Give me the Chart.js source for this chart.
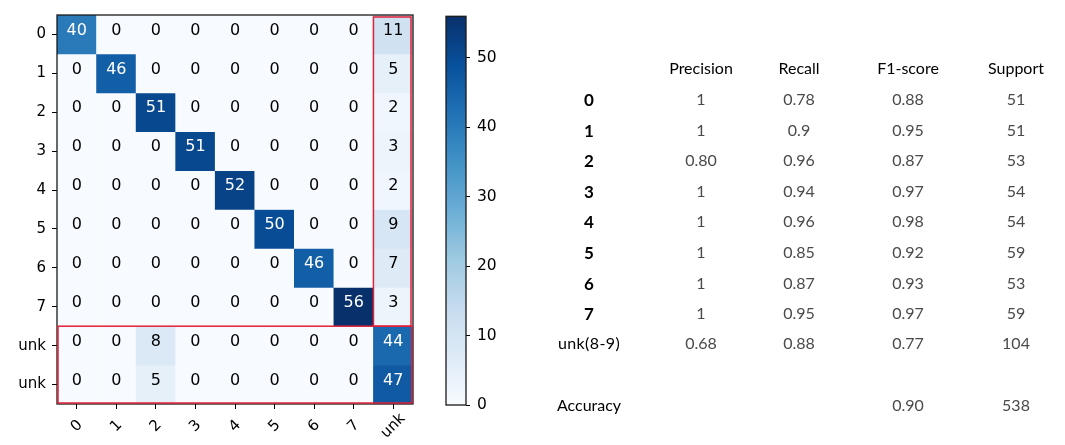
<!DOCTYPE html>
<html>
<head>
<meta charset="utf-8">
<script src="https://cdn.jsdelivr.net/npm/chart.js@4.4.1/dist/chart.umd.min.js"></script>
<style>
  html, body { margin: 0; padding: 0; background: #fff; }
  #page { position: relative; width: 1065px; height: 445px; overflow: hidden; background: #fff; }
  #heatBox { position: absolute; left: 0; top: 0; width: 430px; height: 445px; }
  #barBox { position: absolute; left: 430px; top: 0; width: 110px; height: 445px; }
  #report { position: absolute; left: 0; top: 0; width: 1065px; height: 445px; font-family: Lato, "Open Sans", sans-serif; font-size: 16px; }
  #report div { position: absolute; transform: translate(-50%, -50%); white-space: nowrap; line-height: 1; }
  .hdr { color: #000; }
  .lbl { color: #000; font-weight: bold; font-size: 17px; }
  .lbl2 { color: #000; }
  .lbl2.wide { letter-spacing: 0.4px; }
  .val { color: #4a4a4a; }
</style>
</head>
<body>
<div id="page">
  <div id="heatBox"><canvas id="heat"></canvas></div>
  <div id="barBox"><canvas id="cbar"></canvas></div>
  <div id="report"></div>
</div>
<script>
// Predicted classes (columns) and true classes (rows)
const predLabels = ['0', '1', '2', '3', '4', '5', '6', '7', 'unk'];
const trueLabels = ['0', '1', '2', '3', '4', '5', '6', '7', 'unk', 'unk'];

// Confusion-matrix counts, one array per true-class row
const row0 = [40, 0, 0, 0, 0, 0, 0, 0, 11];
const row1 = [0, 46, 0, 0, 0, 0, 0, 0, 5];
const row2 = [0, 0, 51, 0, 0, 0, 0, 0, 2];
const row3 = [0, 0, 0, 51, 0, 0, 0, 0, 3];
const row4 = [0, 0, 0, 0, 52, 0, 0, 0, 2];
const row5 = [0, 0, 0, 0, 0, 50, 0, 0, 9];
const row6 = [0, 0, 0, 0, 0, 0, 46, 0, 7];
const row7 = [0, 0, 0, 0, 0, 0, 0, 56, 3];
const row8 = [0, 0, 8, 0, 0, 0, 0, 0, 44];
const row9 = [0, 0, 5, 0, 0, 0, 0, 0, 47];
const matrix = [row0, row1, row2, row3, row4, row5, row6, row7, row8, row9];

// Colour bar ticks
const colorbarTicks = [0, 10, 20, 30, 40, 50];

// Classification report
const reportHeaders = ['Precision', 'Recall', 'F1-score', 'Support'];
const reportClasses = ['0', '1', '2', '3', '4', '5', '6', '7', 'unk(8-9)'];
const precision = ['1', '1', '0.80', '1', '1', '1', '1', '1', '0.68'];
const recall = ['0.78', '0.9', '0.96', '0.94', '0.96', '0.85', '0.87', '0.95', '0.88'];
const f1score = ['0.88', '0.95', '0.87', '0.97', '0.98', '0.92', '0.93', '0.97', '0.77'];
const support = ['51', '51', '53', '54', '54', '59', '53', '59', '104'];
const accuracyLabel = 'Accuracy';
const accuracyF1 = '0.90';
const accuracySupport = '538';

// ---- colour map (matplotlib "Blues") ----
const BLUES = ['#f7fbff', '#deebf7', '#c6dbef', '#9ecae1', '#6baed6', '#4292c6', '#2171b5', '#08519c', '#08306b'];
function hexToRgb(h) {
  return [parseInt(h.slice(1, 3), 16), parseInt(h.slice(3, 5), 16), parseInt(h.slice(5, 7), 16)];
}
const BLUES_RGB = BLUES.map(hexToRgb);
function blues(t) {
  t = Math.max(0, Math.min(1, t));
  const f = t * (BLUES_RGB.length - 1);
  const i = Math.min(Math.floor(f), BLUES_RGB.length - 2);
  const u = f - i;
  const a = BLUES_RGB[i], b = BLUES_RGB[i + 1];
  const c = a.map((v, k) => Math.round(v + (b[k] - v) * u));
  return `rgb(${c[0]},${c[1]},${c[2]})`;
}
const vmax = Math.max(...matrix.flat());

const FONT = 'DejaVu Sans';

// Frame around the plotting area
const framePlugin = {
  id: 'frame',
  afterDatasetsDraw(chart) {
    const { ctx, chartArea: a } = chart;
    ctx.save();
    ctx.strokeStyle = '#1a1a1a';
    ctx.lineWidth = 1.3;
    ctx.strokeRect(a.left, a.top, a.right - a.left, a.bottom - a.top);
    ctx.restore();
  }
};

// Count annotations, highlight boxes and rotated column labels
const heatDecor = {
  id: 'heatDecor',
  afterDatasetsDraw(chart) {
    const { ctx, scales: { x, y } } = chart;
    ctx.save();
    ctx.font = `16px "${FONT}"`;
    ctx.textAlign = 'center';
    ctx.textBaseline = 'middle';
    matrix.forEach((row, r) => {
      row.forEach((v, c) => {
        ctx.fillStyle = v > vmax / 2 ? '#ffffff' : '#000000';
        ctx.fillText(String(v), x.getPixelForValue(c), y.getPixelForValue(r) - 4);
      });
    });
    ctx.restore();
  },
  afterDraw(chart) {
    const { ctx, scales: { x, y }, chartArea: a } = chart;
    const half = (x.getPixelForValue(1) - x.getPixelForValue(0)) / 2;
    ctx.save();
    ctx.strokeStyle = 'rgb(226,32,56)';
    ctx.lineWidth = 1.5;
    // unknown-prediction column for the known classes
    const c8 = x.getPixelForValue(8);
    ctx.strokeRect(c8 - half, y.getPixelForValue(-0.5) + 2, 2 * half - 2, y.getPixelForValue(7.5) - y.getPixelForValue(-0.5) - 2);
    // unknown true-class rows
    ctx.strokeRect(a.left + 1, y.getPixelForValue(7.5), a.right - a.left - 2, y.getPixelForValue(9.5) - y.getPixelForValue(7.5) - 1);
    ctx.restore();

    // rotated x tick labels, centred below each tick
    ctx.save();
    ctx.font = `15px "${FONT}"`;
    ctx.fillStyle = '#000';
    ctx.textAlign = 'center';
    ctx.textBaseline = 'middle';
    predLabels.forEach((lab, i) => {
      const px = x.getPixelForTick(i);
      ctx.save();
      ctx.translate(px, a.bottom + 22);
      ctx.rotate(-Math.PI / 4);
      ctx.fillText(lab, 0, 0);
      ctx.restore();
    });
    ctx.restore();
  }
};

const heatDatasets = matrix.map((row, r) => ({
  label: trueLabels[r],
  data: row.map(() => [r - 0.5, r + 0.5]),
  backgroundColor: row.map(v => blues(v / vmax)),
  borderWidth: 0
}));

new Chart(document.getElementById('heat'), {
  type: 'bar',
  data: { labels: predLabels, datasets: heatDatasets },
  options: {
    responsive: true,
    maintainAspectRatio: false,
    animation: false,
    events: [],
    layout: { padding: { top: 10, right: 17, left: 0, bottom: 0 } },
    datasets: { bar: { grouped: false, barPercentage: 1, categoryPercentage: 1 } },
    plugins: { legend: { display: false }, tooltip: { enabled: false } },
    scales: {
      x: {
        type: 'category',
        offset: true,
        grid: { display: true, offset: false, drawOnChartArea: false, drawTicks: true, tickLength: 5, color: '#000', lineWidth: 1 },
        border: { display: false },
        ticks: { display: false },
        afterFit(s) { s.height = 41; }
      },
      y: {
        type: 'linear',
        reverse: true,
        min: -0.5,
        max: 9.5,
        afterBuildTicks(s) { s.ticks = trueLabels.map((_, i) => ({ value: i })); },
        grid: { display: true, drawOnChartArea: false, drawTicks: true, tickLength: 5, color: '#000', lineWidth: 1 },
        border: { display: false },
        ticks: {
          color: '#000',
          padding: 6,
          font: { family: FONT, size: 15 },
          callback: (v, i) => trueLabels[i]
        },
        afterFit(s) { s.width = 57; }
      }
    }
  },
  plugins: [framePlugin, heatDecor]
});

// ---- colour bar ----
new Chart(document.getElementById('cbar'), {
  type: 'bar',
  data: {
    labels: [''],
    datasets: [{
      data: [[0, vmax]],
      borderWidth: 0,
      backgroundColor(ctx) {
        const chart = ctx.chart;
        const ys = chart.scales.y;
        if (!chart.chartArea || !ys) return BLUES[4];
        const g = chart.ctx.createLinearGradient(0, ys.getPixelForValue(0), 0, ys.getPixelForValue(vmax));
        for (let k = 0; k <= 40; k++) g.addColorStop(k / 40, blues(k / 40));
        return g;
      }
    }]
  },
  options: {
    responsive: true,
    maintainAspectRatio: false,
    animation: false,
    events: [],
    layout: { padding: { top: 10, left: 16, bottom: 40, right: 0 } },
    datasets: { bar: { barPercentage: 1, categoryPercentage: 1 } },
    plugins: { legend: { display: false }, tooltip: { enabled: false } },
    scales: {
      x: { display: false, offset: true },
      y: {
        position: 'right',
        min: 0,
        max: vmax,
        afterBuildTicks(s) { s.ticks = colorbarTicks.map(v => ({ value: v })); },
        grid: { display: true, drawOnChartArea: false, drawTicks: true, tickLength: 4, color: '#000' },
        border: { display: false },
        ticks: { color: '#000', padding: 7, font: { family: FONT, size: 15.5 } },
        afterFit(s) { s.width = 74; }
      }
    }
  },
  plugins: [framePlugin]
});

// ---- classification report ----
const report = document.getElementById('report');
const colX = [589, 701, 799, 908, 1016];
const rowY = [99.3, 129.6, 160.2, 190.6, 221.2, 251.7, 282.7, 313.3, 343.3];
function put(text, cx, cy, cls) {
  const d = document.createElement('div');
  d.className = cls;
  d.textContent = text;
  d.style.left = cx + 'px';
  d.style.top = cy + 'px';
  report.appendChild(d);
}
reportHeaders.forEach((h, j) => put(h, colX[j + 1], 68, 'hdr'));
reportClasses.forEach((c, i) => {
  put(c, colX[0], rowY[i], i < 8 ? 'lbl' : 'lbl2 wide');
  put(precision[i], colX[1], rowY[i], 'val');
  put(recall[i], colX[2], rowY[i], 'val');
  put(f1score[i], colX[3], rowY[i], 'val');
  put(support[i], colX[4], rowY[i], 'val');
});
put(accuracyLabel, colX[0], 405, 'lbl2');
put(accuracyF1, colX[3], 405, 'val');
put(accuracySupport, colX[4], 405, 'val');
</script>
</body>
</html>
